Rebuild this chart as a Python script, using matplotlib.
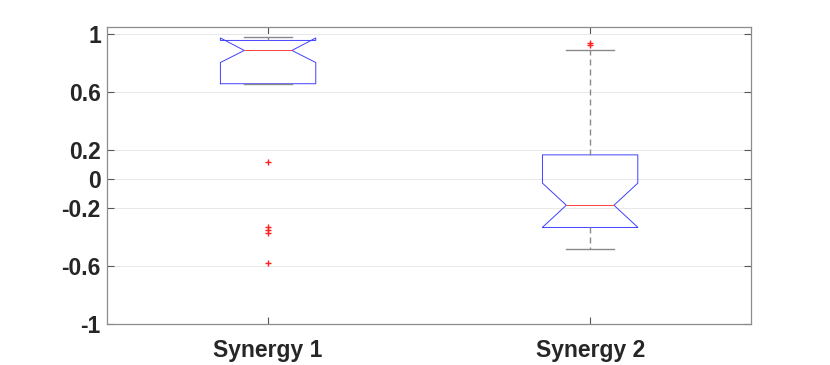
import matplotlib
matplotlib.use('Agg')
import matplotlib.pyplot as plt

# box statistics
labels = ['Synergy 1', 'Synergy 2']
q1 = [0.657, -0.333]
med = [0.886, -0.18]
q3 = [0.955, 0.167]
ci_lo = [0.803, -0.332]
ci_hi = [0.972, -0.028]
whis_lo = [0.657, -0.48]
whis_hi = [0.979, 0.89]
outliers = [[0.12, -0.33, -0.35, -0.373, -0.58], [0.94, 0.923]]
yticks = [-1, -0.6, -0.2, 0, 0.2, 0.6, 1]

stats = []
for i in range(len(labels)):
    stats.append(dict(label=labels[i], q1=q1[i], med=med[i], q3=q3[i],
                      cilo=ci_lo[i], cihi=ci_hi[i],
                      whislo=whis_lo[i], whishi=whis_hi[i], fliers=outliers[i]))

plt.rcParams['font.family'] = ['Liberation Sans', 'DejaVu Sans']

fig = plt.figure(figsize=(8.3, 3.65), dpi=100)
ax = fig.add_axes([0.129, 0.1115, 0.776, 0.8155])

ax.bxp(stats, positions=[1, 2], widths=0.296, shownotches=True,
       boxprops=dict(color='#4040ff', lw=0.7),
       medianprops=dict(color='#ff4040', lw=0.7),
       whiskerprops=dict(color='#8a8a8a', lw=1.0, ls=(0, (4.3, 2.9))),
       capprops=dict(color='#8a8a8a', lw=1.0),
       flierprops=dict(marker='+', markeredgecolor='#ff2020', markersize=5, mew=1.0, ls='none'))

ax.set_xlim(0.5, 2.5)
ax.set_ylim(-1, 1.05)
ax.set_yticks(yticks)
ax.set_yticklabels(['-1', '-0.6', '-0.2', '0', '0.2', '0.6', '1'])
ax.set_xticks([1, 2])
ax.set_xticklabels(labels)

ax.grid(axis='y', color='#e8e8e8', lw=0.7)
ax.set_axisbelow(True)
for s in ax.spines.values():
    s.set_color('#8c8c8c')
    s.set_linewidth(0.9)
ax.tick_params(direction='in', length=5, width=0.8, color='#555555',
               top=True, right=True, labelsize=16.5, labelcolor='#262626')
ax.tick_params(axis='y', pad=4.5)
ax.tick_params(axis='x', pad=10.5)
for t in ax.get_xticklabels() + ax.get_yticklabels():
    t.set_fontweight('bold')

plt.savefig('out.png', dpi=100)
